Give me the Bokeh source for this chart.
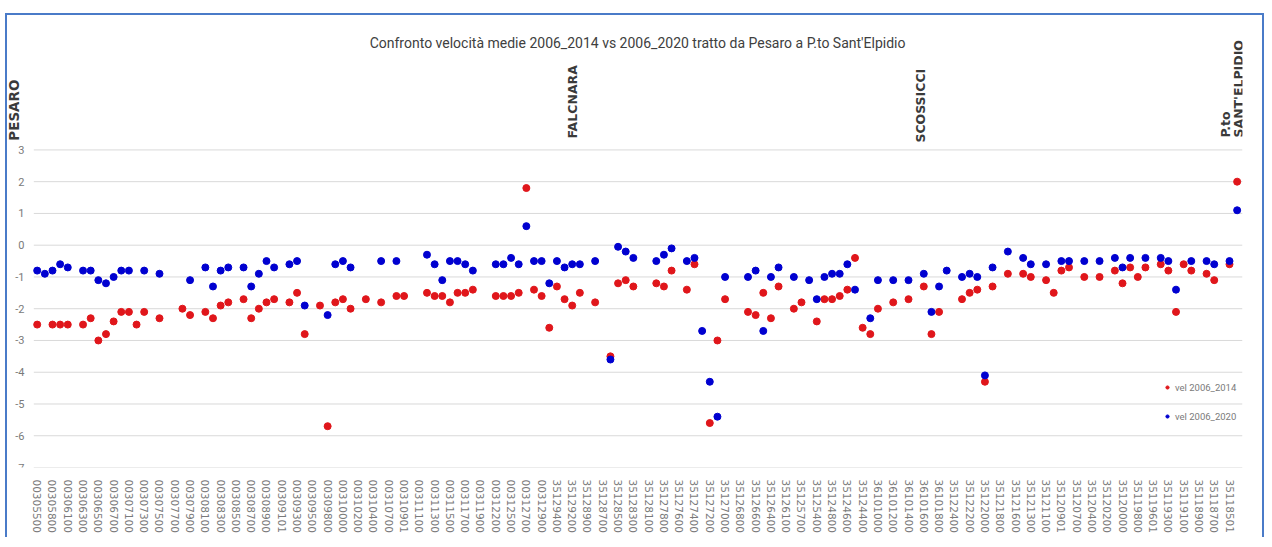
import numpy as np
from math import pi
from bokeh.plotting import figure
from bokeh.layouts import column, row
from bokeh.models import ColumnDataSource, FixedTicker, Label, Legend, LegendItem, Range1d, Spacer
from bokeh.core.properties import value
from bokeh.embed import file_html
from bokeh.resources import INLINE

nan = np.nan

# tick labels shown on the category axis (every other section)
tick_labels = [
    "00305500", "00305800", "00306100", "00306300", "00306500", "00306700", "00307100", "00307300",
    "00307500", "00307700", "00307900", "00308100", "00308300", "00308500", "00308700", "00308900",
    "00309101", "00309300", "00309500", "00309800", "00310000", "00310200", "00310400", "00310700",
    "00310901", "00311100", "00311300", "00311500", "00311700", "00311900", "00312200", "00312500",
    "00312700", "00312900", "35129400", "35129200", "35128900", "35128700", "35128500", "35128300",
    "35128100", "35127800", "35127600", "35127400", "35127200", "35127000", "35126800", "35126600",
    "35126400", "35126100", "35125700", "35125400", "35124800", "35124600", "35124400", "36101000",
    "36101200", "36101400", "36101600", "36101800", "35122400", "35122200", "35122000", "35121800",
    "35121600", "35121300", "35121100", "35120901", "35120700", "35120400", "35120200", "35120000",
    "35119800", "35119601", "35119300", "35119100", "35118900", "35118700", "35118501",
]

vel_2006_2014 = [
    -2.5, nan, -2.5, -2.5, -2.5, nan, -2.5, -2.3, -3.0, -2.8,
    -2.4, -2.1, -2.1, -2.5, -2.1, nan, -2.3, nan, nan, -2.0,
    -2.2, nan, -2.1, -2.3, -1.9, -1.8, nan, -1.7, -2.3, -2.0,
    -1.8, -1.7, nan, -1.8, -1.5, -2.8, nan, -1.9, -5.7, -1.8,
    -1.7, -2.0, nan, -1.7, nan, -1.8, nan, -1.6, -1.6, nan,
    nan, -1.5, -1.6, -1.6, -1.8, -1.5, -1.5, -1.4, nan, nan,
    -1.6, -1.6, -1.6, -1.5, 1.8, -1.4, -1.6, -2.6, -1.3, -1.7,
    -1.9, -1.5, nan, -1.8, nan, -3.5, -1.2, -1.1, -1.3, nan,
    nan, -1.2, -1.3, -0.8, nan, -1.4, -0.6, nan, -5.6, -3.0,
    -1.7, nan, nan, -2.1, -2.2, -1.5, -2.3, -1.3, nan, -2.0,
    -1.8, nan, -2.4, -1.7, -1.7, -1.6, -1.4, -0.4, -2.6, -2.8,
    -2.0, nan, -1.8, nan, -1.7, nan, -1.3, -2.8, -2.1, nan,
    nan, -1.7, -1.5, -1.4, -4.3, -1.3, nan, -0.9, nan, -0.9,
    -1.0, nan, -1.1, -1.5, -0.8, -0.7, nan, -1.0, nan, -1.0,
    nan, -0.8, -1.2, -0.7, -1.0, -0.7, nan, -0.6, -0.8, -2.1,
    -0.6, -0.8, nan, -0.9, -1.1, nan, -0.6, 2.0,
]

vel_2006_2020 = [
    -0.8, -0.9, -0.8, -0.6, -0.7, nan, -0.8, -0.8, -1.1, -1.2,
    -1.0, -0.8, -0.8, nan, -0.8, nan, -0.9, nan, nan, nan,
    -1.1, nan, -0.7, -1.3, -0.8, -0.7, nan, -0.7, -1.3, -0.9,
    -0.5, -0.7, nan, -0.6, -0.5, -1.9, nan, nan, -2.2, -0.6,
    -0.5, -0.7, nan, nan, nan, -0.5, nan, -0.5, nan, nan,
    nan, -0.3, -0.6, -1.1, -0.5, -0.5, -0.6, -0.8, nan, nan,
    -0.6, -0.6, -0.4, -0.6, 0.6, -0.5, -0.5, -1.2, -0.5, -0.7,
    -0.6, -0.6, nan, -0.5, nan, -3.6, -0.05, -0.2, -0.4, nan,
    nan, -0.5, -0.3, -0.1, nan, -0.5, -0.4, -2.7, -4.3, -5.4,
    -1.0, nan, nan, -1.0, -0.8, -2.7, -1.0, -0.7, nan, -1.0,
    nan, -1.1, -1.7, -1.0, -0.9, -0.9, -0.6, -1.4, nan, -2.3,
    -1.1, nan, -1.1, nan, -1.1, nan, -0.9, -2.1, -1.3, -0.8,
    nan, -1.0, -0.9, -1.0, -4.1, -0.7, nan, -0.2, nan, -0.4,
    -0.6, nan, -0.6, nan, -0.5, -0.5, nan, -0.5, nan, -0.5,
    nan, -0.4, -0.7, -0.4, nan, -0.4, nan, -0.4, -0.5, -1.4,
    nan, -0.5, nan, -0.5, -0.6, nan, -0.5, 1.1,
]

y_ticks = [-7, -6, -5, -4, -3, -2, -1, 0, 1, 2, 3]

places = ["PESARO", "FALCNARA", "SCOSSICCI", "P.to", "SANT'ELPIDIO"]
place_x = [-3.10, 70.04, 115.57, 155.5, 157.2]
place_y = [3.29, 3.36, 3.23, 3.39, 3.39]

title_text = "Confronto velocità medie 2006_2014 vs 2006_2020 tratto da Pesaro a P.to Sant'Elpidio"

# plot-area extent (category units) for the gridlines
grid_x0, grid_x1 = -0.445, 157.70
ylab_x = -1.66

n = len(vel_2006_2014)
idx = np.arange(n)
src = ColumnDataSource(dict(x=idx,
                            y14=np.array(vel_2006_2014, dtype=float),
                            y20=np.array(vel_2006_2020, dtype=float)))

p = figure(width=1259, height=524, output_backend="svg", toolbar_location=None,
           x_range=Range1d(-3.886, 157.70), y_range=Range1d(-7, 7.17),
           min_border_left=0, min_border_right=24, min_border_top=2, min_border_bottom=72)
p.styles = {"border-left": "2px solid #4a7bc8", "border-top": "2px solid #4a7bc8",
            "border-right": "2px solid #4a7bc8"}
p.outline_line_color = None
p.background_fill_color = "white"

# gridlines (horizontal, only over the plot area)
p.segment(x0=[grid_x0] * len(y_ticks), x1=[grid_x1] * len(y_ticks), y0=y_ticks, y1=y_ticks,
          line_color="#d9d9d9", line_width=1)
# value labels of the vertical axis
p.text(x=[ylab_x] * len(y_ticks), y=y_ticks, text=[str(t) for t in y_ticks],
       text_align="right", text_baseline="middle", text_font=value("Roboto"),
       text_font_size="11px", text_color="#7a7a7a")

r14 = p.scatter("x", "y14", source=src, size=7, color="#e0161b")
r20 = p.scatter("x", "y20", source=src, size=7, color="#0000d0")

p.yaxis.visible = False
p.ygrid.grid_line_color = None
p.xgrid.grid_line_color = None

even = list(range(0, 2 * len(tick_labels), 2))
p.xaxis.ticker = FixedTicker(ticks=even)
p.xaxis.major_label_overrides = {i: lab for i, lab in zip(even, tick_labels)}
p.xaxis.major_label_orientation = "vertical"
p.xaxis.axis_line_color = None
p.xaxis.major_tick_line_color = None
p.xaxis.minor_tick_line_color = None
p.xaxis.major_label_standoff = 6
p.xaxis.major_label_text_font = "DejaVu Sans"
p.xaxis.major_label_text_font_size = "10.5px"
p.xaxis.major_label_text_color = "#7a7a7a"

# title
p.add_layout(Label(x=78.55, y=6.38, text=title_text, text_align="center", text_baseline="middle",
                   text_font="Roboto", text_font_size="14px", text_color="#404040"))

# place names
for name, xx, yy in zip(places, place_x, place_y):
    p.add_layout(Label(x=xx, y=yy, text=name, angle=pi / 2, text_align="left",
                       text_baseline="middle", text_font="DejaVu Sans", text_font_style="bold",
                       text_font_size="13.5px" if name == "PESARO" else "12.5px",
                       text_color="#3a3a3a"))

legend = Legend(items=[LegendItem(label="vel 2006_2014", renderers=[r14]),
                       LegendItem(label="vel 2006_2020", renderers=[r20])],
                location=(1156, 45), padding=0, margin=0, spacing=17,
                glyph_width=8, glyph_height=12, label_height=12, label_standoff=4,
                label_text_font="Roboto", label_text_font_size="9.5px",
                label_text_color="#7a7a7a", border_line_color=None, background_fill_alpha=0)
p.add_layout(legend)

layout = row(Spacer(width=5), column(Spacer(height=13), p))
open("out.html", "w").write(file_html(layout, INLINE))
